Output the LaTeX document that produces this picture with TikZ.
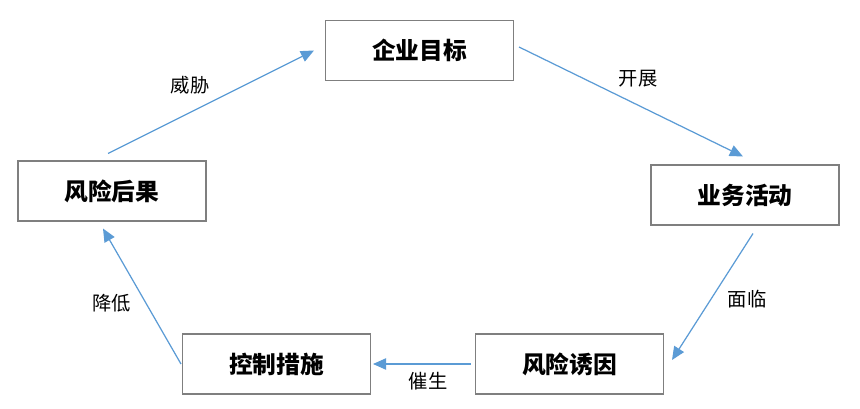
\documentclass[tikz,border=0pt]{standalone}
\usepackage{fontspec}
\setmainfont{Noto Sans CJK SC}
\usepackage{xcolor}
\usetikzlibrary{arrows.meta, calc, positioning}
\definecolor{flowblue}{HTML}{5B9BD5}
\definecolor{boxgray}{HTML}{7F7F7F}
\tikzset{
  line cap=round,
  line join=round,
  box/.style={draw=boxgray, line width=0.6pt, minimum width=3.76cm, minimum height=1.2cm, align=center,
    font=\fontsize{13.5}{16}\selectfont\bfseries},
  arrow/.style={-{Triangle[length=7.5pt, width=6.5pt]}, draw=flowblue, line width=0.7pt},
  tag/.style={font=\fontsize{11}{13}\selectfont, inner sep=1pt}
}

\begin{document}
\begin{tikzpicture}[x=0.02cm, y=-0.02cm]
    \useasboundingbox (0,0) rectangle (860,409);
    % the five stages
    \node[box] (goal)   at (419.5,50.5) {企业目标};
    \node[box] (act)    at (745,195)    {业务活动};
    \node[box] (cause)  at (569.5,364)  {风险诱因};
    \node[box] (ctrl)   at (276.5,364)  {控制措施};
    \node[box] (result) at (112,191)    {风险后果};
    % cycle
    \draw[arrow] ($(goal.east)+(5,-3.5)$)   -- ($(act.north)+(-2,-8)$);
    \draw[arrow] ($(act.south)+(8,8)$)      -- ($(cause.east)+(8,-4)$);
    \draw[arrow] ($(cause.west)+(-4,0)$)    -- ($(ctrl.east)+(2,0)$);
    \draw[arrow] ($(ctrl.west)+(-1,0)$)     -- ($(result.south)+(-9,7)$);
    \draw[arrow] ($(result.north)+(-4,-7)$) -- ($(goal.west)+(-11,0)$);
    \node[tag] (launch) at (638,79)  {开展};
    \node[tag] (face)   at (747,299) {面临};
    \node[tag] (spawn)  at (428,381) {催生};
    \node[tag] (reduce) at (112,303) {降低};
    \node[tag] (threat) at (190,85)  {威胁};
  \end{tikzpicture}
\end{document}
